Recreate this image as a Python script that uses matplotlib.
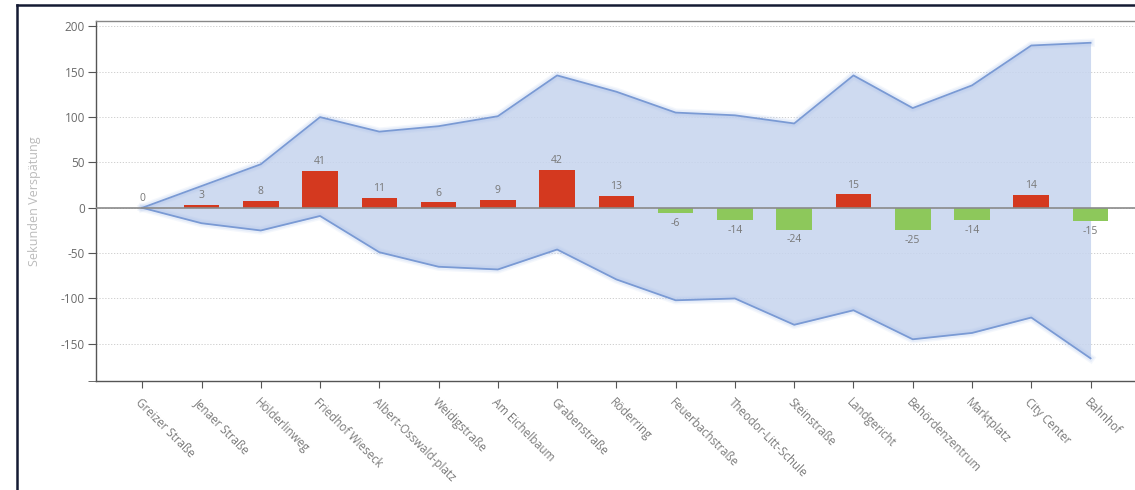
import matplotlib
matplotlib.use("Agg")
import matplotlib.pyplot as plt
from matplotlib.lines import Line2D
import numpy as np

stops = ["Greizer Straße", "Jenaer Straße", "Hölderlinweg", "Friedhof Wieseck",
         "Albert-Osswald-platz", "Weidigstraße", "Am Eichelbaum", "Grabenstraße",
         "Röderring", "Feuerbachstraße", "Theodor-Litt-Schule", "Steinstraße",
         "Landgericht", "Behördenzentrum", "Marktplatz", "City Center", "Bahnhof"]
delay = [0, 3, 8, 41, 11, 6, 9, 42, 13, -6, -14, -24, 15, -25, -14, 14, -15]
upper = [0, 24, 48, 100, 84, 90, 101, 146, 128, 105, 102, 93, 146, 110, 135, 179, 182]
lower = [0, -17, -25, -9, -49, -65, -68, -46, -79, -102, -100, -129, -113, -145, -138, -121, -166]
yticks = [-150, -100, -50, 0, 50, 100, 150, 200]
ylabel = "Sekunden Verspätung"

plt.rcParams['font.family'] = ['Open Sans', 'DejaVu Sans']

fig = plt.figure(figsize=(11.35, 4.9), dpi=100)
ax = fig.add_axes([96/1135, (490-381)/490, 1 - 96/1135, (381-21)/490])

x = np.arange(len(stops))
band_line = "#7a9ad4"
ax.fill_between(x, lower, upper, color="#c6d4ee", alpha=0.85, lw=0, zorder=1)
for w, a in [(6, 0.12), (4, 0.18)]:
    ax.plot(x, upper, color="#a9c0ec", lw=w, alpha=a, zorder=2, solid_joinstyle='round')
    ax.plot(x, lower, color="#a9c0ec", lw=w, alpha=a, zorder=2, solid_joinstyle='round')
ax.plot(x, upper, color=band_line, lw=1.3, zorder=3)
ax.plot(x, lower, color=band_line, lw=1.3, zorder=3)

colors = ["#d4391f" if v >= 0 else "#8dc85b" for v in delay]
ax.bar(x, delay, width=0.6, color=colors, zorder=4)

for xi, v in zip(x, delay):
    if v >= 0:
        ax.text(xi, v + 4, str(v), ha='center', va='bottom', fontsize=7.5, color="#777777", zorder=5)
    else:
        ax.text(xi, v - 5, str(v), ha='center', va='top', fontsize=7.5, color="#777777", zorder=5)

ax.axhline(0, color="#8a8a8a", lw=1.2, zorder=4.5)

ax.set_xlim(-0.78, 16.75)
ax.set_ylim(-191, 206)
ax.set_yticks(yticks)
ax.set_yticklabels([str(t) for t in yticks])
ax.set_yticks([-190.6], minor=True)
ax.yaxis.grid(True, which='major', linestyle=(0, (1.5, 2)), color="#c8c8c8", lw=0.6)
ax.set_axisbelow(True)

ax.set_xticks(x)
ax.set_xticklabels(stops, rotation=-45, ha='left', va='top', rotation_mode='anchor',
                   fontsize=8.3, color="#7a7a7a")
ax.tick_params(axis='x', length=5, color="#555555", pad=6)
ax.tick_params(axis='y', which='major', length=6, color="#555555", labelsize=8.5,
               labelcolor="#6a6a6a", pad=2)
ax.tick_params(axis='y', which='minor', length=6, color="#555555")

for s in ['left', 'bottom', 'top']:
    ax.spines[s].set_color("#555555")
    ax.spines[s].set_linewidth(1.0)
ax.spines['top'].set_color("#888888")
ax.spines['right'].set_visible(False)

ax.set_ylabel(ylabel, fontsize=9, color="#bbbbbb", labelpad=14)

# outer frame (screenshot border)
fig.add_artist(Line2D([17/1135, 17/1135], [0, 1 - 5/490], transform=fig.transFigure,
                      color="#141a33", lw=1.8))
fig.add_artist(Line2D([17/1135, 1], [1 - 5/490, 1 - 5/490], transform=fig.transFigure,
                      color="#141a33", lw=1.8))

fig.savefig("out.png", dpi=100)
